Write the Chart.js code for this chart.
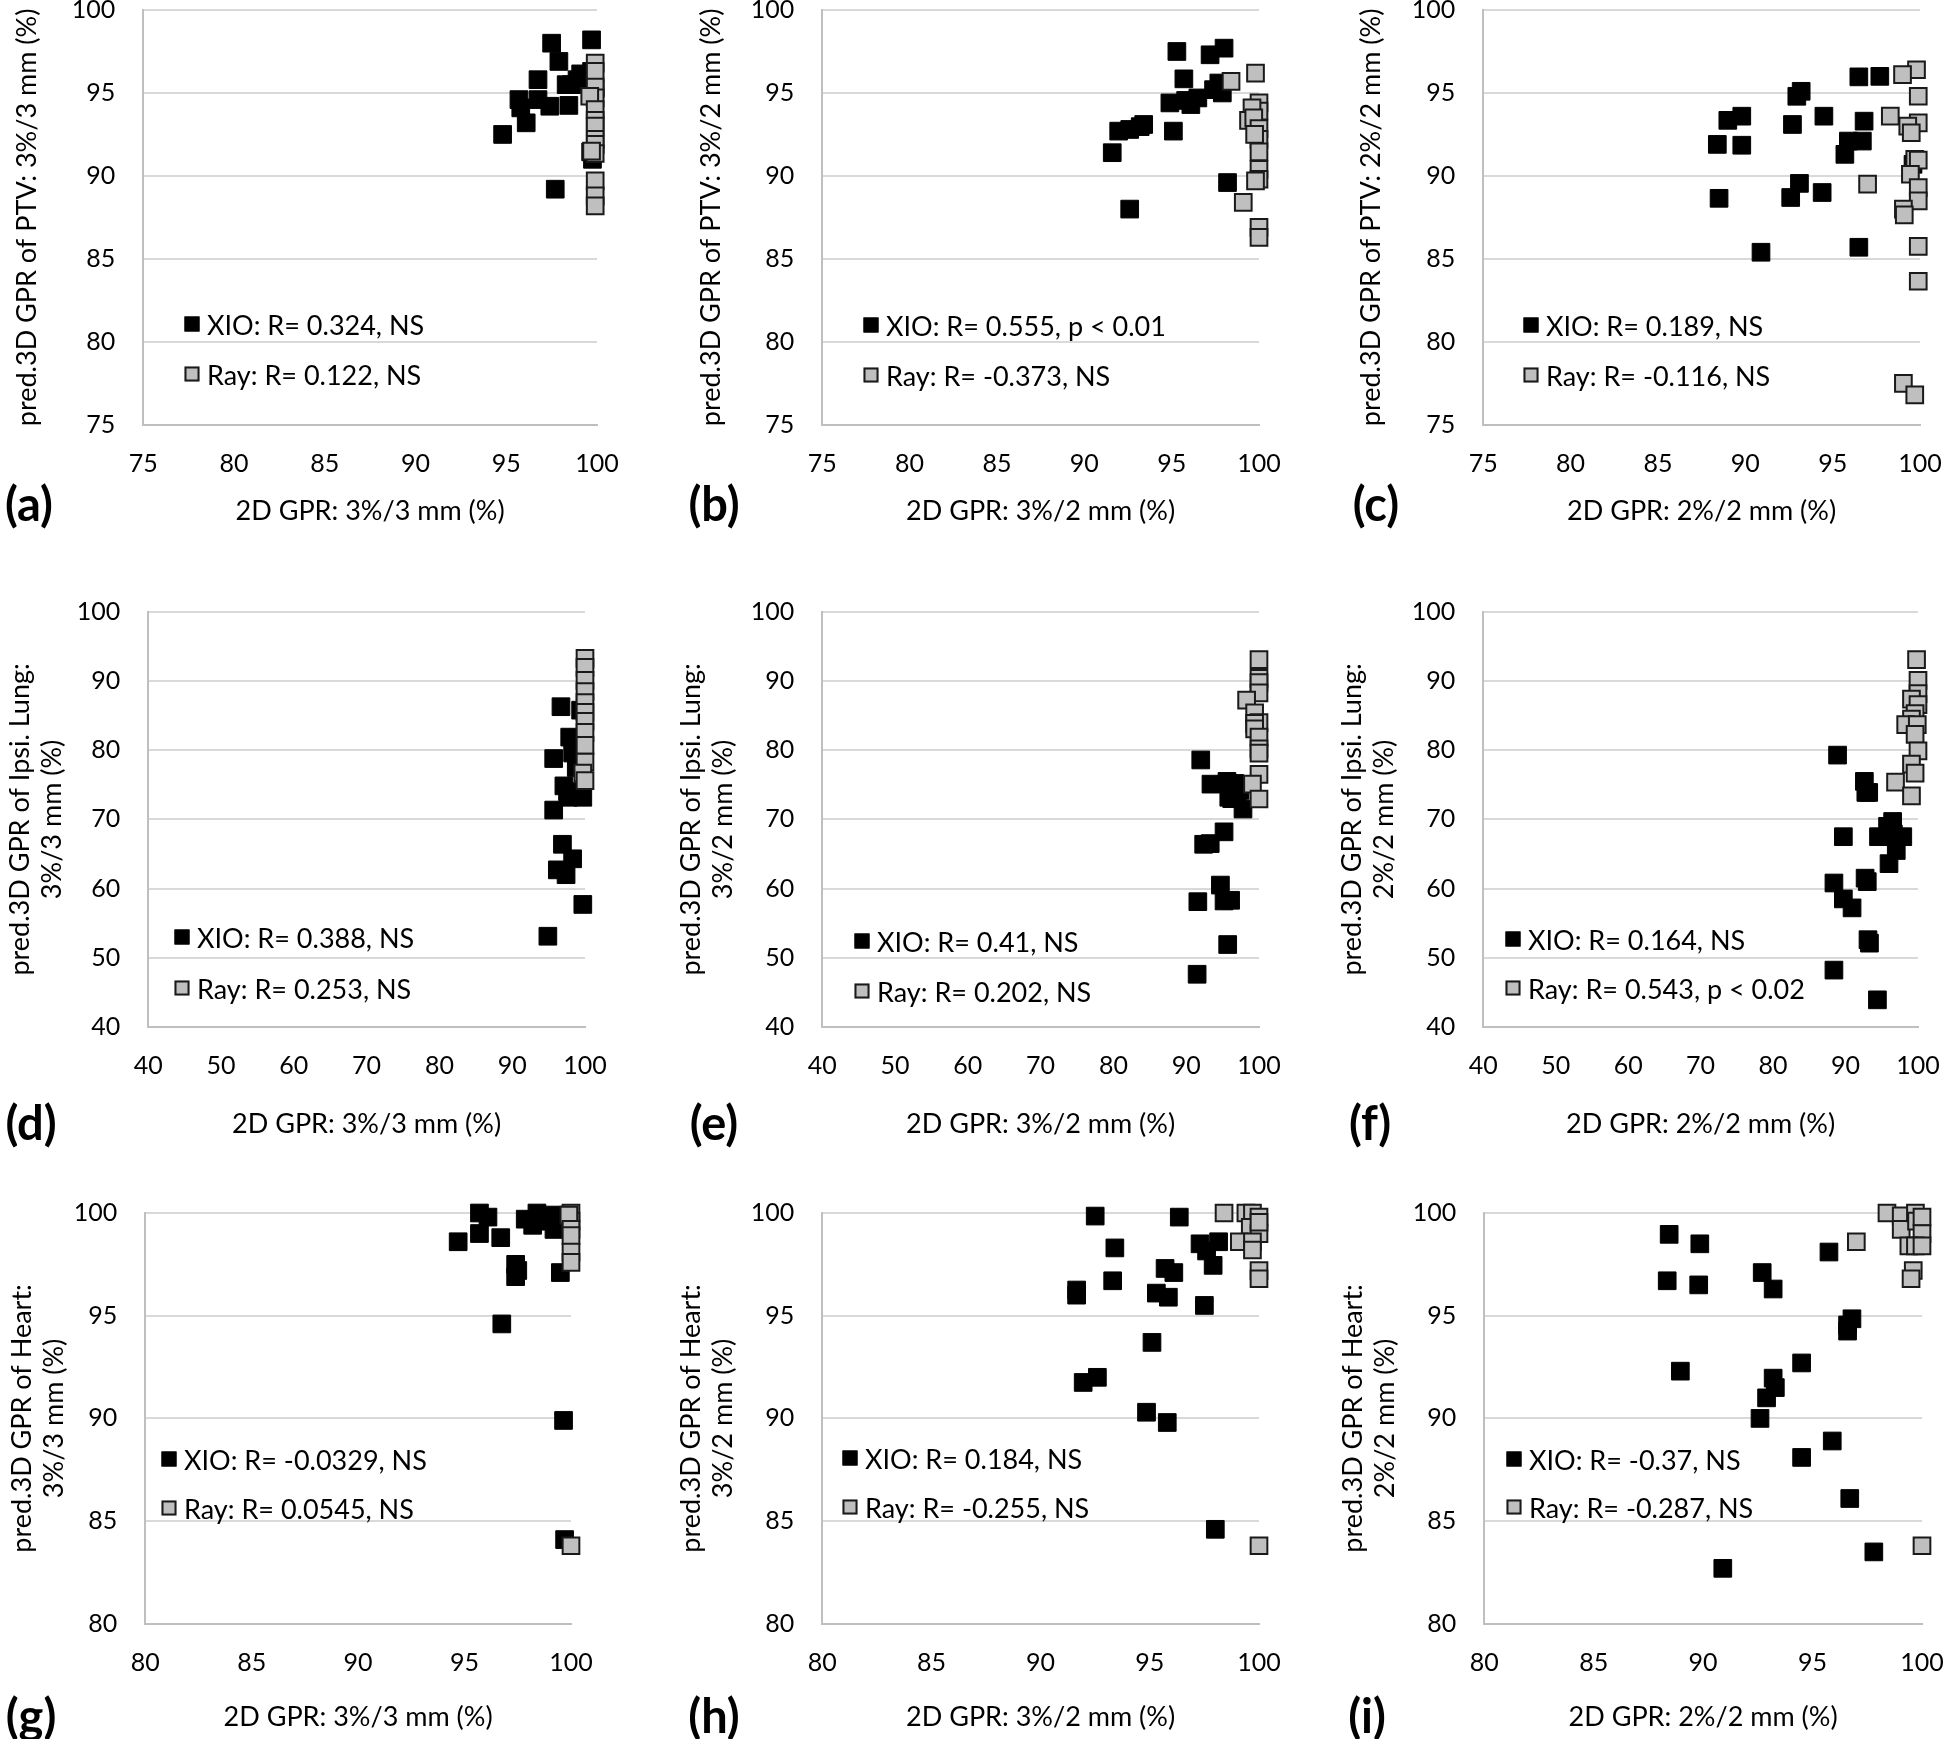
<!DOCTYPE html>
<html>
<head>
<meta charset="utf-8">
<script src="https://cdn.jsdelivr.net/npm/chart.js@4.4.0/dist/chart.umd.min.js"></script>
<style>
    body {
        margin: 0;
        background: #fff;
        width: 1944px;
        height: 1739px;
        position: relative;
        overflow: hidden;
        font-family: Lato, sans-serif;
        color: #000;
    }
    .panel { position: absolute; }
    .letter {
        position: absolute;
        font-weight: bold;
        font-size: 47px;
        transform: translate(-50%, -50%);
        white-space: nowrap;
    }
    .legend-row {
        position: absolute;
        font-size: 27px;
        white-space: nowrap;
        transform: translateY(-50%);
    }
    .legend-box {
        position: absolute;
        width: 15px;
        height: 15px;
        transform: translate(-50%, -50%);
        box-sizing: border-box;
    }
</style>
</head>
<body>
<script>
// Tick labels for each row of panels
const ptvTicks = [75, 80, 85, 90, 95, 100];
const lungTicks = [40, 50, 60, 70, 80, 90, 100];
const heartTicks = [80, 85, 90, 95, 100];

// Axis titles
const xTitles = ['2D GPR: 3%/3 mm (%)', '2D GPR: 3%/2 mm (%)', '2D GPR: 2%/2 mm (%)'];
const yTitles = [
    ['pred.3D GPR of PTV: 3%/3 mm (%)'],
    ['pred.3D GPR of PTV: 3%/2 mm (%)'],
    ['pred.3D GPR of PTV: 2%/2 mm (%)'],
    ['pred.3D GPR of Ipsi. Lung:', '3%/3 mm (%)'],
    ['pred.3D GPR of Ipsi. Lung:', '3%/2 mm (%)'],
    ['pred.3D GPR of Ipsi. Lung:', '2%/2 mm (%)'],
    ['pred.3D GPR of Heart:', '3%/3 mm (%)'],
    ['pred.3D GPR of Heart:', '3%/2 mm (%)'],
    ['pred.3D GPR of Heart:', '2%/2 mm (%)']
];
const panelLetters = ['(a)', '(b)', '(c)', '(d)', '(e)', '(f)', '(g)', '(h)', '(i)'];
const xioLabels = ['XIO: R= 0.324, NS', 'XIO: R= 0.555, p < 0.01', 'XIO: R= 0.189, NS',
    'XIO: R= 0.388, NS', 'XIO: R= 0.41, NS', 'XIO: R= 0.164, NS',
    'XIO: R= -0.0329, NS', 'XIO: R= 0.184, NS', 'XIO: R= -0.37, NS'];
const rayLabels = ['Ray: R= 0.122, NS', 'Ray: R= -0.373, NS', 'Ray: R= -0.116, NS',
    'Ray: R= 0.253, NS', 'Ray: R= 0.202, NS', 'Ray: R= 0.543, p < 0.02',
    'Ray: R= 0.0545, NS', 'Ray: R= -0.255, NS', 'Ray: R= -0.287, NS'];

// Data points [2D GPR, pred. 3D GPR]
const aXio = [[94.8,92.5],[95.7,94.6],[95.8,94.1],[96.1,93.2],[96.75,95.8],[96.75,94.6],[97.5,98.0],[97.4,94.2],[97.9,96.9],[97.7,89.2],[98.3,95.5],[98.6,95.5],[98.45,94.25],[99.1,96.15],[99.7,98.2],[99.5,95.8],[99.7,96.3],[99.75,91.0],[99.65,91.45],[99.9,95.25],[98.9,95.8]];
const aRay = [[99.9,96.8],[99.9,96.3],[99.9,95.35],[99.9,94.7],[99.6,94.8],[99.9,94.0],[99.9,93.35],[99.9,93.0],[99.9,92.2],[99.9,91.9],[99.9,91.35],[99.7,91.5],[99.9,89.7],[99.9,88.8],[99.9,88.2]];
const bXio = [[91.6,91.4],[91.97,92.7],[92.6,92.8],[92.6,88.0],[93.2,92.97],[93.4,93.1],[94.9,94.4],[95.1,92.7],[95.3,97.5],[95.7,95.85],[95.8,94.55],[96.1,94.3],[96.5,94.7],[97.2,97.3],[98.0,97.7],[97.4,95.2],[97.7,95.6],[97.9,95.0],[98.2,89.6]];
const bRay = [[98.4,95.7],[99.8,96.2],[100,94.4],[100,93.9],[99.6,94.1],[99.4,93.35],[99.7,93.5],[100,92.85],[100,92.2],[99.75,92.5],[100,91.45],[100,90.4],[100,89.8],[99.8,89.7],[99.1,88.4],[100,86.9],[100,86.3]];
const cXio = [[88.4,91.9],[88.5,88.65],[89.0,93.35],[89.8,93.6],[89.8,91.85],[90.9,85.4],[92.7,93.1],[92.6,88.7],[92.95,94.8],[93.2,95.1],[93.1,89.55],[94.5,93.6],[94.4,89.0],[95.7,91.3],[95.9,92.1],[96.7,92.1],[96.5,95.97],[96.8,93.3],[96.5,85.7],[97.7,96.0],[99.6,90.7]];
const cRay = [[99.8,96.4],[99.0,96.1],[99.9,94.8],[98.3,93.6],[99.9,93.2],[99.3,93.0],[99.5,92.6],[99.7,91.0],[99.9,90.95],[99.45,90.1],[97.0,89.5],[99.9,89.3],[99.9,88.5],[99.05,88.0],[99.1,87.65],[99.9,85.75],[99.9,83.65],[99.05,77.5],[99.7,76.8]];
const dXio = [[94.9,53.1],[95.7,78.8],[95.7,71.35],[96.2,62.7],[96.7,86.3],[96.9,66.4],[97.4,62.0],[98.3,64.3],[97.1,74.85],[97.6,74.0],[97.7,73.2],[97.9,81.9],[98.5,81.25],[98.3,79.6],[98.8,77.5],[99.7,57.7],[99.7,73.2],[99.4,85.8],[99.2,74.0]];
const dRay = [[100,93.3],[100,92.0],[100,90.1],[100,88.5],[100,86.9],[100,85.5],[100,84.2],[100,82.6],[100,80.7],[100,78.3],[99.7,76.7],[100,75.6]];
const eXio = [[91.5,47.6],[91.6,58.1],[92.0,78.6],[92.4,66.4],[93.3,66.5],[93.4,75.1],[94.7,60.5],[95.2,68.2],[95.2,58.2],[95.7,51.9],[96.1,58.3],[95.6,75.5],[95.85,73.2],[96.25,74.8],[96.7,75.2],[97.0,74.0],[97.4,74.2],[97.8,71.5],[96.25,73.0]];
const eRay = [[100,93.1],[100,90.4],[100,89.8],[100,88.3],[98.3,87.25],[99.4,85.4],[100,84.0],[99.4,83.9],[99.4,83.1],[100,81.9],[100,80.2],[100,79.6],[100,76.5],[99.1,75.1],[100,72.95]];
const fXio = [[88.4,48.2],[88.4,60.8],[88.9,79.3],[89.7,67.5],[89.7,58.5],[90.9,57.2],[92.6,75.5],[92.8,73.9],[93.2,73.9],[92.7,61.5],[93.0,61.0],[93.1,52.6],[93.3,52.1],[94.4,43.9],[94.55,67.5],[95.8,69.0],[96.0,63.6],[96.5,69.7],[96.6,67.9],[97.0,65.5],[97.9,67.5],[96.0,67.9]];
const fRay = [[99.8,93.1],[100,90.1],[100,88.2],[99.1,87.4],[100,86.6],[99.6,85.3],[99.1,84.5],[98.3,83.7],[99.9,83.7],[99.6,82.3],[100,79.9],[99.1,78.0],[99.6,76.7],[96.9,75.4],[99.1,73.4]];
const gXio = [[94.7,98.6],[95.7,99.0],[95.7,100],[96.1,99.8],[96.7,98.8],[96.75,94.6],[97.4,97.5],[97.5,97.2],[97.4,96.9],[97.85,99.7],[98.2,99.4],[98.4,100],[98.4,99.6],[99.2,99.9],[99.2,99.2],[99.5,97.1],[99.65,89.9],[99.7,84.1],[99.6,99.5]];
const gRay = [[100,100],[100,99.6],[99.9,99.9],[100,99.2],[100,98.9],[100,98.1],[100,97.6],[100,83.8]];
const hXio = [[91.65,96.25],[91.65,96.0],[91.95,91.75],[92.6,92.0],[92.5,99.85],[93.3,96.7],[93.4,98.3],[94.85,90.3],[95.1,93.7],[95.3,96.1],[95.8,89.8],[95.85,95.9],[95.7,97.3],[96.1,97.1],[96.35,99.8],[97.3,98.5],[97.5,95.5],[97.6,98.15],[97.9,97.45],[98.15,98.6],[98.0,84.6]];
const hRay = [[98.4,100],[99.4,100],[99.7,100],[100,99.8],[99.6,99.3],[100,99.0],[100,99.55],[99.1,98.6],[99.7,98.6],[99.7,98.2],[100,97.2],[100,96.8],[100,83.8]];
const iXio = [[88.36,96.7],[88.45,98.96],[88.96,92.3],[89.8,96.5],[89.85,98.5],[90.9,82.7],[92.6,90.0],[92.7,97.1],[92.9,91.0],[93.2,91.96],[93.3,91.5],[93.2,96.3],[94.5,88.1],[94.5,92.7],[95.75,98.1],[95.9,88.9],[96.6,94.25],[96.6,94.55],[96.8,94.85],[96.7,86.1],[97.8,83.5]];
const iRay = [[97.0,98.6],[98.4,100],[99.05,99.86],[99.05,99.2],[99.7,100],[99.75,99.6],[100,99.8],[100,99.0],[99.4,98.4],[99.7,98.4],[100,98.4],[99.6,97.2],[99.5,96.8],[100,83.8]];

const xioSeries = [aXio, bXio, cXio, dXio, eXio, fXio, gXio, hXio, iXio];
const raySeries = [aRay, bRay, cRay, dRay, eRay, fRay, gRay, hRay, iRay];
const rowTicks = [ptvTicks, lungTicks, heartTicks];

// Page layout (pixels)
const rowBox = [
    { top: 10, bottom: 425, titleGap: 86 },
    { top: 612, bottom: 1027, titleGap: 97 },
    { top: 1213, bottom: 1624, titleGap: 93 }
];
const colPlot = [
    [[143, 597], [822, 1259], [1483, 1920]],
    [[148, 585], [822, 1259], [1483, 1918]],
    [[145, 571], [822, 1259], [1484, 1922]]
];
const yTitleX = [27, 711, 1371, 20, 691, 1352, 22, 691, 1353];
const letterPos = [[29, 503], [714, 503], [1376, 503], [31, 1122], [714, 1122], [1370, 1122], [31, 1715], [714, 1715], [1367, 1715]];
const legendPos = [[192, 324, 374], [871, 325, 375], [1531, 325, 375], [182, 937, 988], [862, 941, 991], [1513, 939, 988], [169, 1459, 1508], [850, 1458, 1507], [1514, 1459, 1507]];

const FONT = 'Lato, sans-serif';
const TITLE_SIZE = 27;
const TICK_SIZE = 25;
const LH = TITLE_SIZE * 1.2;

function toPoints(arr) {
    return arr.map(p => ({ x: p[0], y: p[1] }));
}

function makePanel(i) {
    const row = Math.floor(i / 3);
    const col = i % 3;
    const box = rowBox[row];
    const [plotLeft, plotRight] = colPlot[row][col];
    const ticks = rowTicks[row];
    const step = ticks[1] - ticks[0];

    // generous padding so tick labels never push the plot area in
    const padTop = 60;
    const padRight = 70;
    const canvasLeft = yTitleX[i] - LH / 2;
    const yAxisW = plotLeft - canvasLeft;
    const xAxisH = box.titleGap + LH / 2 + 4;
    const width = Math.round(plotRight + padRight - canvasLeft);
    const height = Math.round(padTop + (box.bottom - box.top) + xAxisH);

    const wrap = document.createElement('div');
    wrap.className = 'panel';
    wrap.style.left = canvasLeft + 'px';
    wrap.style.top = (box.top - padTop) + 'px';
    const canvas = document.createElement('canvas');
    canvas.width = width;
    canvas.height = height;
    canvas.style.width = width + 'px';
    canvas.style.height = height + 'px';
    wrap.appendChild(canvas);
    document.body.appendChild(wrap);

    new Chart(canvas, {
        type: 'scatter',
        data: {
            datasets: [
                {
                    label: 'XIO',
                    data: toPoints(xioSeries[i]),
                    pointStyle: 'rect',
                    pointRadius: 12.5,
                    backgroundColor: '#000',
                    borderColor: '#000',
                    borderWidth: 1,
                    clip: false,
                    order: 1
                },
                {
                    label: 'Ray',
                    data: toPoints(raySeries[i]),
                    pointStyle: 'rect',
                    pointRadius: 11.8,
                    backgroundColor: '#bfbfbf',
                    borderColor: '#1a1a1a',
                    borderWidth: 2,
                    clip: false,
                    order: 0
                }
            ]
        },
        options: {
            responsive: false,
            animation: false,
            devicePixelRatio: 1,
            layout: { padding: { top: padTop, right: padRight, left: 0, bottom: 0 } },
            plugins: {
                legend: { display: false },
                tooltip: { enabled: false }
            },
            scales: {
                x: {
                    type: 'linear',
                    min: ticks[0],
                    max: ticks[ticks.length - 1],
                    ticks: {
                        stepSize: step,
                        autoSkip: false,
                        maxRotation: 0,
                        padding: 24,
                        color: '#000',
                        font: { family: FONT, size: TICK_SIZE }
                    },
                    grid: { display: false, drawTicks: false },
                    border: { display: true, color: '#bfbfbf', width: 2 },
                    title: {
                        display: true,
                        text: xTitles[col],
                        color: '#000',
                        font: { family: FONT, size: TITLE_SIZE },
                        padding: { top: 0, bottom: 4 }
                    },
                    afterFit: scale => { scale.height = xAxisH; }
                },
                y: {
                    type: 'linear',
                    min: ticks[0],
                    max: ticks[ticks.length - 1],
                    ticks: {
                        stepSize: step,
                        autoSkip: false,
                        padding: 28,
                        color: '#000',
                        font: { family: FONT, size: TICK_SIZE }
                    },
                    grid: { color: '#d9d9d9', lineWidth: 2, drawTicks: false },
                    border: { display: true, color: '#bfbfbf', width: 2 },
                    title: {
                        display: true,
                        text: yTitles[i],
                        color: '#000',
                        font: { family: FONT, size: TITLE_SIZE },
                        padding: { top: 0, bottom: 0 }
                    },
                    afterFit: scale => { scale.width = yAxisW; }
                }
            }
        }
    });

    // Panel letter
    const letter = document.createElement('div');
    letter.className = 'letter';
    letter.textContent = panelLetters[i];
    letter.style.left = letterPos[i][0] + 'px';
    letter.style.top = letterPos[i][1] + 'px';
    document.body.appendChild(letter);

    // Legend inside the plot area
    const [sqX, y1, y2] = legendPos[i];
    addLegendRow(sqX, y1, '#000', '#000', xioLabels[i]);
    addLegendRow(sqX, y2, '#bfbfbf', '#1a1a1a', rayLabels[i]);
}

function addLegendRow(sqX, y, fill, stroke, text) {
    const sq = document.createElement('div');
    sq.className = 'legend-box';
    sq.style.left = sqX + 'px';
    sq.style.top = y + 'px';
    sq.style.background = fill;
    sq.style.border = '2px solid ' + stroke;
    document.body.appendChild(sq);

    const label = document.createElement('div');
    label.className = 'legend-row';
    label.style.left = (sqX + 15) + 'px';
    label.style.top = y + 'px';
    label.textContent = text;
    document.body.appendChild(label);
}

for (let i = 0; i < 9; i++) {
    makePanel(i);
}
</script>
</body>
</html>
